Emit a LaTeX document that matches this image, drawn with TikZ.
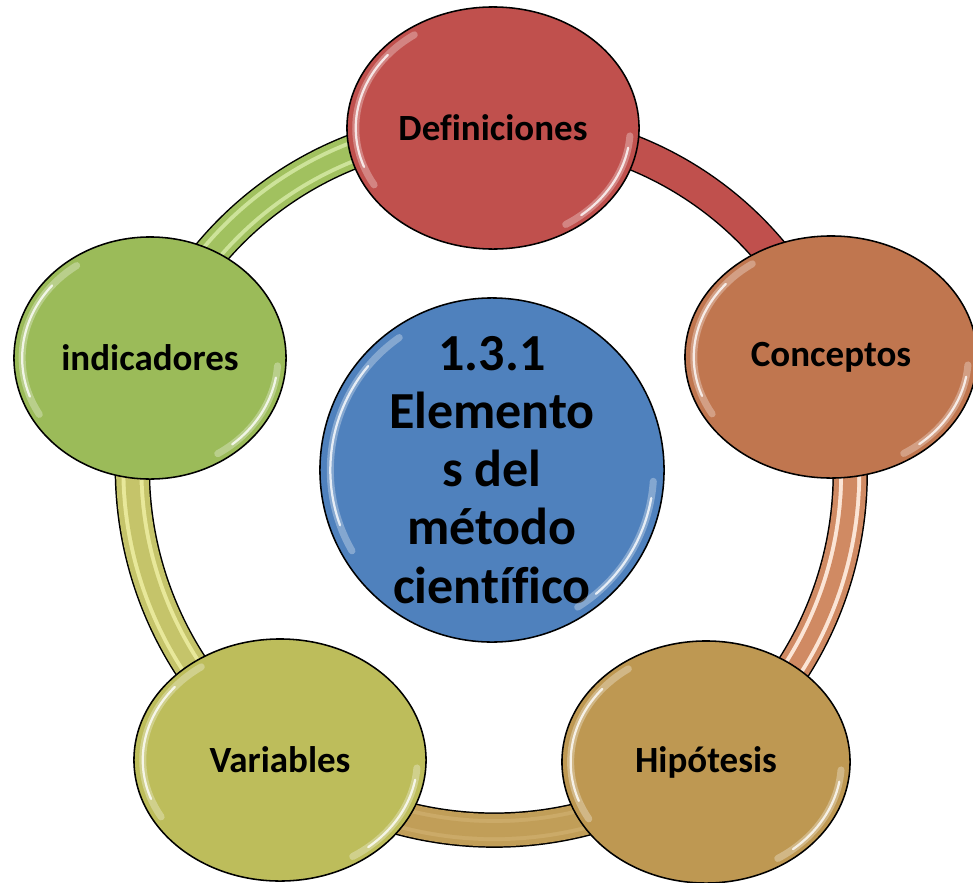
\documentclass[tikz,border=0pt]{standalone}
\usepackage{fontspec}
\setmainfont{Carlito}[Ligatures=NoCommon]
\usetikzlibrary{shapes.geometric}
\usetikzlibrary{backgrounds}

\definecolor{defred}{HTML}{C0504D}
\definecolor{conorange}{HTML}{C0764F}
\definecolor{hipgold}{HTML}{BE9852}
\definecolor{varolive}{HTML}{BDBD5B}
\definecolor{indgreen}{HTML}{9BBB59}
\definecolor{midblue}{HTML}{4F81BD}

\definecolor{conband}{HTML}{D08A63}
\definecolor{constripe}{HTML}{FBE5D6}
\definecolor{hipband}{HTML}{C19E58}
\definecolor{hipstripe}{HTML}{CBAA68}
\definecolor{varband}{HTML}{C5C46A}
\definecolor{varstripe}{HTML}{E8E89A}
\definecolor{indband}{HTML}{A1C15F}
\definecolor{indstripe}{HTML}{CDE39A}

\begin{document}
\begin{tikzpicture}[x=0.025cm,y=-0.025cm,
        bubble/.style={ellipse,draw,line width=1.1pt,inner sep=0pt,
            minimum width=7.3cm,minimum height=6.05cm,
            font=\bfseries\fontsize{26.3}{30}\selectfont},
        glow/.style={white,opacity=0.3,line width=5pt,line cap=round},
        gloss/.style={white,opacity=0.8,line width=1.6pt,line cap=round}]

            % \draw [help lines] (0,0) grid (973,882);
            \useasboundingbox (0,0) rectangle (973,882);

            \path   (492,470) node (mid) [circle,draw,line width=1.1pt,inner sep=0pt,
                                          minimum size=8.6cm,fill=midblue,align=center,
                                          font=\bfseries\fontsize{37}{41.3}\selectfont]
                                          {1.3.1\\Elemento\\s del\\método\\científico}
                    (493,128) node (def) [bubble,fill=defred] {Definiciones}
                    (831,357) node (con) [bubble,fill=conorange] {Conceptos}
                    (706,762) node (hip) [bubble,fill=hipgold,minimum width=7.2cm] {Hipótesis}
                    (280,760) node (var) [bubble,fill=varolive] {Variables}
                    (150,358) node (ind) [bubble,fill=indgreen,minimum width=6.8cm] {indicadores};

            % ring between the bubbles
            \begin{pgfonlayer}{background}
            \foreach \s/\e/\c/\l in {def/con/defred/defred, con/hip/conband/constripe,
                                     hip/var/hipband/hipstripe, var/ind/varband/varstripe,
                                     ind/def/indband/indstripe}
            {
                \draw[line width=25.2pt] (\s.center) to[bend left=36,looseness=0.94] (\e.center);
                \draw[line width=23.1pt,\c] (\s.center) to[bend left=36,looseness=0.94] (\e.center);
                \draw[line width=15.6pt,\l] (\s.center) to[bend left=36,looseness=0.94] (\e.center);
                \draw[line width=10pt,\c] (\s.center) to[bend left=36,looseness=0.94] (\e.center);
            }
            \end{pgfonlayer}

            % shine on the bubbles
            \foreach \n/\rx/\ry in {def/146/121, con/146/121, hip/144/121, var/146/121,
                                    ind/136/120, mid/172/172}
            {
                \draw[glow] (\n.center) ++(150:{0.94*\rx} and {0.94*\ry})
                    arc[start angle=150,end angle=235,x radius=0.94*\rx,y radius=0.94*\ry];
                \draw[gloss] (\n.center) ++(160:{0.94*\rx} and {0.94*\ry})
                    arc[start angle=160,end angle=220,x radius=0.94*\rx,y radius=0.94*\ry];
                \draw[glow] (\n.center) ++(4:{0.94*\rx} and {0.94*\ry})
                    arc[start angle=4,end angle=58,x radius=0.94*\rx,y radius=0.94*\ry];
                \draw[gloss] (\n.center) ++(10:{0.94*\rx} and {0.94*\ry})
                    arc[start angle=10,end angle=50,x radius=0.94*\rx,y radius=0.94*\ry];
            }

\end{tikzpicture}
\end{document}
